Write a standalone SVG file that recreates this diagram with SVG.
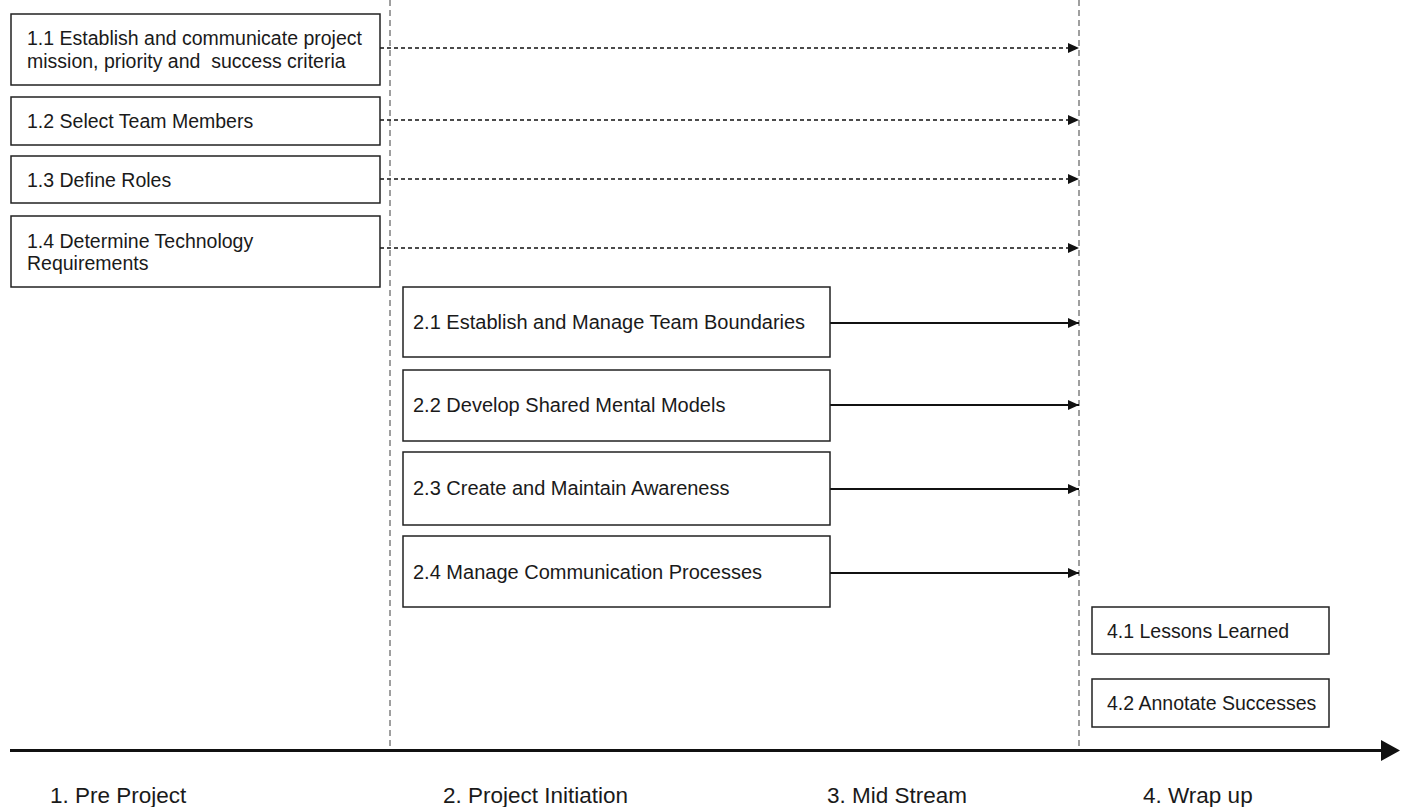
<svg xmlns="http://www.w3.org/2000/svg" width="1408" height="807" viewBox="0 0 1408 807">
<style>
  .box { fill: #ffffff; stroke: #222222; stroke-width: 1.5; }
  .lbl { font-family: "Liberation Sans", Arial, sans-serif; font-size: 19.5px; fill: #1a1a1a; }
  .lbl2 { font-family: "Liberation Sans", Arial, sans-serif; font-size: 20px; fill: #1a1a1a; }
  .phase { font-family: "Liberation Sans", Arial, sans-serif; font-size: 22.5px; fill: #1a1a1a; }
  .divider { stroke: #808080; stroke-width: 1.5; stroke-dasharray: 6 4; fill: none; }
  .dash { stroke: #111111; stroke-width: 1.5; stroke-dasharray: 4 3; fill: none; }
  .solid { stroke: #111111; stroke-width: 2; fill: none; }
  .axis { stroke: #111111; stroke-width: 3; fill: none; }
</style>
<defs>
  <marker id="ah" markerUnits="userSpaceOnUse" markerWidth="12" markerHeight="10" refX="11" refY="5" orient="auto">
    <path d="M0,0 L11,5 L0,10 z" fill="#111111"/>
  </marker>
</defs>
<rect width="1408" height="807" fill="#ffffff"/>

<g id="dividers">
  <line class="divider" x1="390" y1="0" x2="390" y2="750"/>
  <line class="divider" x1="1079" y1="0" x2="1079" y2="750"/>
</g>

<g id="connectors">
  <line class="dash" x1="380" y1="48" x2="1079" y2="48" marker-end="url(#ah)"/>
  <line class="dash" x1="380" y1="120" x2="1079" y2="120" marker-end="url(#ah)"/>
  <line class="dash" x1="380" y1="179" x2="1079" y2="179" marker-end="url(#ah)"/>
  <line class="dash" x1="380" y1="248" x2="1079" y2="248" marker-end="url(#ah)"/>
  <line class="solid" x1="830" y1="323" x2="1079" y2="323" marker-end="url(#ah)"/>
  <line class="solid" x1="830" y1="405" x2="1079" y2="405" marker-end="url(#ah)"/>
  <line class="solid" x1="830" y1="489" x2="1079" y2="489" marker-end="url(#ah)"/>
  <line class="solid" x1="830" y1="573" x2="1079" y2="573" marker-end="url(#ah)"/>
</g>

<g id="n1_1">
  <rect class="box" x="11" y="14" width="369" height="71"/>
  <text class="lbl" x="27" y="45">1.1 Establish and communicate project</text>
  <text class="lbl" x="27" y="68" xml:space="preserve">mission, priority and  success criteria</text>
</g>
<g id="n1_2">
  <rect class="box" x="11" y="97" width="369" height="48"/>
  <text class="lbl" x="27" y="128">1.2 Select Team Members</text>
</g>
<g id="n1_3">
  <rect class="box" x="11" y="156" width="369" height="47"/>
  <text class="lbl" x="27" y="187">1.3 Define Roles</text>
</g>
<g id="n1_4">
  <rect class="box" x="11" y="216" width="369" height="71"/>
  <text class="lbl" x="27" y="248">1.4 Determine Technology</text>
  <text class="lbl" x="27" y="270">Requirements</text>
</g>

<g id="n2_1">
  <rect class="box" x="403" y="287" width="427" height="70"/>
  <text class="lbl2" x="413" y="329">2.1 Establish and Manage Team Boundaries</text>
</g>
<g id="n2_2">
  <rect class="box" x="403" y="370" width="427" height="71"/>
  <text class="lbl2" x="413" y="412">2.2 Develop Shared Mental Models</text>
</g>
<g id="n2_3">
  <rect class="box" x="403" y="452" width="427" height="73"/>
  <text class="lbl2" x="413" y="495">2.3 Create and Maintain Awareness</text>
</g>
<g id="n2_4">
  <rect class="box" x="403" y="536" width="427" height="71"/>
  <text class="lbl2" x="413" y="579">2.4 Manage Communication Processes</text>
</g>

<g id="n4_1">
  <rect class="box" x="1092" y="607" width="237" height="47"/>
  <text class="lbl" x="1107" y="638">4.1 Lessons Learned</text>
</g>
<g id="n4_2">
  <rect class="box" x="1092" y="679" width="237" height="48"/>
  <text class="lbl" x="1107" y="710">4.2 Annotate Successes</text>
</g>

<g id="timeline">
  <line class="axis" x1="10" y1="750.5" x2="1383" y2="750.5"/>
  <polygon points="1381,740 1400,750.5 1381,761" fill="#111111"/>
</g>

<g id="phases">
  <text class="phase" x="50" y="803">1. Pre Project</text>
  <text class="phase" x="443" y="803">2. Project Initiation</text>
  <text class="phase" x="827" y="803">3. Mid Stream</text>
  <text class="phase" x="1143" y="803">4. Wrap up</text>
</g>
</svg>
